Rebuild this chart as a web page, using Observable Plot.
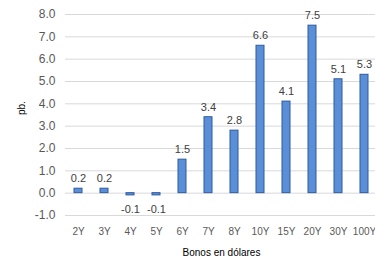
<!DOCTYPE html>
<html><head><meta charset="utf-8">
<script src="https://cdn.jsdelivr.net/npm/d3@7"></script>
<script src="https://cdn.jsdelivr.net/npm/@observablehq/plot@0.6"></script>
<style>body{margin:0;background:#fff;font-family:"Liberation Sans",Arial,sans-serif;}</style>
</head><body><div id="chart"></div>
<script>
const categories = ["2Y","3Y","4Y","5Y","6Y","7Y","8Y","10Y","15Y","20Y","30Y","100Y"];
const values = [0.2,0.2,-0.1,-0.1,1.5,3.4,2.8,6.6,4.1,7.5,5.1,5.3];
const yTicks = [-1,0,1,2,3,4,5,6,7,8];
const xLabel = "Bonos en dólares";
const yLabel = "pb.";
const data = categories.map((c,i)=>({cat:c, v:values[i]}));
const pos = data.filter(d => d.v >= 0);
const neg = data.filter(d => d.v < 0);

const chart = Plot.plot({
  width: 375, height: 263,
  marginLeft: 65, marginRight: -2, marginTop: 14, marginBottom: 48,
  style: {fontFamily: "Liberation Sans, Arial, sans-serif", color: "#595959", background: "#fff"},
  x: {domain: categories, paddingInner: 0.68, paddingOuter: 0.34, label: null},
  y: {domain: [-1, 8], ticks: yTicks, label: null},
  marks: [
    Plot.ruleY(yTicks, {stroke: "#d9d9d9", strokeWidth: 1}),
    Plot.axisY({ticks: yTicks, tickFormat: d => d.toFixed(1), tickSize: 0, tickPadding: 10, fontSize: 12, label: null}),
    Plot.axisX({tickSize: 0, tickPadding: 12, fontSize: 10, label: null}),
    Plot.barY(data, {x: "cat", y: "v", fill: "#5a8fd8", stroke: "#2e5aa0", strokeWidth: 1}),
    Plot.text(pos, {x: "cat", y: "v", text: d => d.v.toFixed(1), dy: -10, fill: "#404040", fontSize: 11}),
    Plot.text(neg, {x: "cat", y: "v", text: d => d.v.toFixed(1), dy: 14, fill: "#404040", fontSize: 11}),
    Plot.text([xLabel], {frameAnchor: "bottom", dy: 40, text: d => d, fill: "#000", fontSize: 10}),
    Plot.text([yLabel], {frameAnchor: "left", dx: -44, rotate: -90, text: d => d, fill: "#000", fontSize: 10})
  ]
});
document.getElementById("chart").appendChild(chart);
</script></body></html>
